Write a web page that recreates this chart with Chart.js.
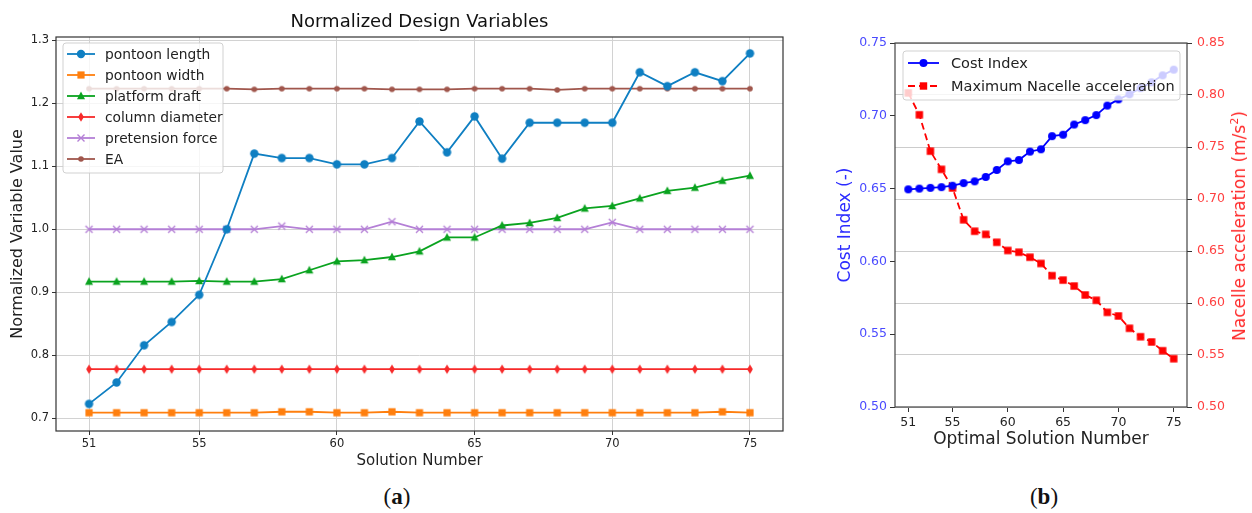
<!DOCTYPE html>
<html>
<head>
<meta charset="utf-8">
<script src="https://cdn.jsdelivr.net/npm/chart.js@4.4.1/dist/chart.umd.min.js"></script>
<style>
  html, body { margin: 0; padding: 0; background: #fff; }
  #wrap { position: relative; width: 1252px; height: 513px; overflow: hidden; background: #fff; }
  #ca { position: absolute; left: 0; top: 0; }
  #cb { position: absolute; left: 830px; top: 0; }
  .cap { position: absolute; top: 484px; line-height: 26px; font-family: "Liberation Serif", "DejaVu Serif", serif; font-size: 23px; color: #111; transform: translateX(-50%); white-space: nowrap; }
  .cap b { font-weight: bold; }
  #rlab { position: absolute; left: 1239px; top: 226px; transform: translate(-50%, -50%) rotate(-90deg); white-space: nowrap;
          font-family: "DejaVu Sans", sans-serif; font-size: 17px; color: #ff2a2a; }
  #rlab sup { font-size: 11px; vertical-align: 7px; line-height: 0; }
</style>
</head>
<body>
<div id="wrap">
  <canvas id="ca" width="800" height="480"></canvas>
  <canvas id="cb" width="422" height="480"></canvas>
  <div id="rlab">Nacelle acceleration (m/s<sup>2</sup>)</div>
  <div class="cap" style="left:397px">(<b>a</b>)</div>
  <div class="cap" style="left:1044px">(<b>b</b>)</div>
</div>
<script>
// ---------------- DATA ----------------
const solutions = [51,52,53,54,55,56,57,58,59,60,61,62,63,64,65,66,67,68,69,70,71,72,73,74,75];
const xTickValues = [51,55,60,65,70,75];

const pontoonLength   = [0.723,0.757,0.816,0.853,0.896,1.000,1.120,1.113,1.113,1.103,1.103,1.113,1.171,1.122,1.179,1.112,1.169,1.169,1.169,1.169,1.249,1.227,1.249,1.235,1.279];
const pontoonWidth    = [0.709,0.709,0.709,0.709,0.709,0.709,0.709,0.7105,0.7105,0.709,0.709,0.7105,0.709,0.709,0.709,0.709,0.709,0.709,0.709,0.709,0.709,0.709,0.709,0.7105,0.709];
const platformDraft   = [0.917,0.917,0.917,0.917,0.918,0.917,0.917,0.921,0.935,0.949,0.951,0.956,0.965,0.987,0.987,1.006,1.010,1.018,1.033,1.037,1.049,1.061,1.066,1.077,1.085];
const columnDiameter  = [0.778,0.778,0.778,0.778,0.778,0.778,0.778,0.778,0.778,0.778,0.778,0.778,0.778,0.778,0.778,0.778,0.778,0.778,0.778,0.778,0.778,0.778,0.778,0.778,0.778];
const pretensionForce = [1.000,1.000,1.000,1.000,1.000,1.000,1.000,1.005,1.000,1.000,1.000,1.012,1.000,1.000,1.000,1.000,1.000,1.000,1.000,1.011,1.000,1.000,1.000,1.000,1.000];
const eaValues        = [1.223,1.223,1.223,1.223,1.223,1.223,1.222,1.223,1.223,1.223,1.223,1.222,1.222,1.222,1.223,1.223,1.223,1.221,1.223,1.223,1.223,1.223,1.223,1.223,1.223];
const yTicksA = [0.7,0.8,0.9,1.0,1.1,1.2,1.3];

const costIndex      = [0.6495,0.650,0.6505,0.651,0.652,0.6538,0.655,0.658,0.6628,0.6687,0.6696,0.6754,0.677,0.686,0.687,0.694,0.697,0.7005,0.707,0.7113,0.7148,0.719,0.723,0.7278,0.7317];
const nacelleAccel   = [0.802,0.781,0.746,0.7285,0.7106,0.680,0.669,0.666,0.6584,0.6505,0.6488,0.644,0.638,0.6263,0.622,0.6163,0.6077,0.6026,0.591,0.5875,0.5757,0.5676,0.5625,0.5541,0.5464];
const yTicksCost = [0.50,0.55,0.60,0.65,0.70,0.75];
const yTicksAcc  = [0.50,0.55,0.60,0.65,0.70,0.75,0.80,0.85];

// ---------------- MARKERS ----------------
function drawMarker(ctx, style, x, y, r, color) {
  ctx.save();
  ctx.fillStyle = color; ctx.strokeStyle = color;
  ctx.beginPath();
  if (style === 'circle') { ctx.arc(x, y, r, 0, Math.PI * 2); ctx.fill(); }
  else if (style === 'square') { ctx.fillRect(x - r, y - r, 2 * r, 2 * r); }
  else if (style === 'triangle') { ctx.moveTo(x, y - r * 1.1); ctx.lineTo(x + r, y + r * 0.8); ctx.lineTo(x - r, y + r * 0.8); ctx.closePath(); ctx.fill(); }
  else if (style === 'thinDiamond') { ctx.moveTo(x, y - r); ctx.lineTo(x + r * 0.6, y); ctx.lineTo(x, y + r); ctx.lineTo(x - r * 0.6, y); ctx.closePath(); ctx.fill(); }
  else if (style === 'x') { ctx.lineWidth = 1.4; ctx.moveTo(x - r, y - r); ctx.lineTo(x + r, y + r); ctx.moveTo(x + r, y - r); ctx.lineTo(x - r, y + r); ctx.stroke(); }
  ctx.restore();
}
function markerImg(style, r, color) {
  const c = document.createElement('canvas');
  const s = Math.ceil(2 * r + 4);
  c.width = s; c.height = s;
  drawMarker(c.getContext('2d'), style, s / 2, s / 2, r, color);
  return c;
}

const FONT = '"DejaVu Sans", sans-serif';
const seriesA = [
  { label: 'pontoon length',   values: pontoonLength,   color: '#0f7fc2', style: 'circle',      r: 4.2, lw: 1.8 },
  { label: 'pontoon width',    values: pontoonWidth,    color: '#ff7f0e', style: 'square',      r: 3.6, lw: 1.8 },
  { label: 'platform draft',   values: platformDraft,   color: '#0aa31f', style: 'triangle',    r: 4.0, lw: 1.8 },
  { label: 'column diameter',  values: columnDiameter,  color: '#f72a2a', style: 'thinDiamond', r: 4.8, lw: 1.8 },
  { label: 'pretension force', values: pretensionForce, color: '#b47fd6', style: 'x',           r: 3.5, lw: 1.8 },
  { label: 'EA',               values: eaValues,        color: '#a0564c', style: 'circle',      r: 2.8, lw: 1.8 }
];

function framePlugin(color) {
  return {
    id: 'frame',
    afterDatasetsDraw(chart) {
      const { ctx, chartArea: a } = chart;
      ctx.save();
      ctx.strokeStyle = color; ctx.lineWidth = 1.2;
      ctx.strokeRect(a.left, a.top, a.right - a.left, a.bottom - a.top);
      ctx.restore();
    }
  };
}
function roundRect(ctx, x, y, w, h, r) {
  ctx.beginPath();
  ctx.moveTo(x + r, y); ctx.lineTo(x + w - r, y); ctx.quadraticCurveTo(x + w, y, x + w, y + r);
  ctx.lineTo(x + w, y + h - r); ctx.quadraticCurveTo(x + w, y + h, x + w - r, y + h);
  ctx.lineTo(x + r, y + h); ctx.quadraticCurveTo(x, y + h, x, y + h - r);
  ctx.lineTo(x, y + r); ctx.quadraticCurveTo(x, y, x + r, y); ctx.closePath();
}
function legendPlugin(cfg) {
  return {
    id: 'boxLegend',
    afterDatasetsDraw(chart) {
      const ctx = chart.ctx;
      ctx.save();
      roundRect(ctx, cfg.x, cfg.y, cfg.w, cfg.h, 3);
      ctx.fillStyle = 'rgba(255,255,255,0.8)'; ctx.fill();
      ctx.strokeStyle = 'rgba(204,204,204,0.9)'; ctx.lineWidth = 1; ctx.stroke();
      cfg.items.forEach((it, i) => {
        const y = cfg.row0 + i * cfg.dy;
        ctx.save();
        ctx.strokeStyle = it.color; ctx.lineWidth = it.lw;
        if (it.dash) ctx.setLineDash(it.dash);
        ctx.beginPath(); ctx.moveTo(cfg.lx0, y); ctx.lineTo(cfg.lx1, y); ctx.stroke();
        ctx.restore();
        drawMarker(ctx, it.style, (cfg.lx0 + cfg.lx1) / 2, y, it.r, it.color);
        ctx.fillStyle = '#222'; ctx.font = cfg.font; ctx.textBaseline = 'middle'; ctx.textAlign = 'left';
        ctx.fillText(it.label, cfg.tx, y + 1);
      });
      ctx.restore();
    }
  };
}
function fixedTicks(vals) { return (s) => { s.ticks = vals.map(v => ({ value: v })); }; }

// ---------------- CHART (a) ----------------
new Chart(document.getElementById('ca'), {
  type: 'line',
  data: {
    datasets: seriesA.map(s => ({
      label: s.label,
      data: solutions.map((x, i) => ({ x: x, y: s.values[i] })),
      borderColor: s.color, backgroundColor: s.color, borderWidth: s.lw,
      pointStyle: markerImg(s.style, s.r, s.color), pointRadius: s.r, pointHoverRadius: s.r,
      tension: 0, fill: false
    }))
  },
  options: {
    responsive: false, animation: false, events: [],
    layout: { padding: { left: 0, right: 17, top: 0, bottom: 0 } },
    plugins: {
      legend: { display: false }, tooltip: { enabled: false },
      title: { display: true, text: 'Normalized Design Variables', fullSize: false, color: '#111',
               font: { family: FONT, size: 18, weight: 'normal', lineHeight: 1.2 }, padding: { top: 11.2, bottom: 4.2 } }
    },
    scales: {
      x: {
        type: 'linear', min: 49.8, max: 76.2,
        afterBuildTicks: fixedTicks(xTickValues),
        afterFit: (s) => { s.height = 49; },
        ticks: { autoSkip: false, maxRotation: 0, padding: 2, color: '#222', font: { family: FONT, size: 11.5 }, callback: v => String(v) },
        grid: { color: '#d2d2d2', lineWidth: 1, tickLength: 4, tickColor: '#333' },
        border: { display: false },
        title: { display: true, text: 'Solution Number', color: '#222', font: { family: FONT, size: 15 }, padding: { top: 0, bottom: 10 } }
      },
      y: {
        type: 'linear', min: 0.68, max: 1.305,
        afterBuildTicks: fixedTicks(yTicksA),
        afterFit: (s) => { s.width = 56; },
        ticks: { padding: 3, color: '#222', font: { family: FONT, size: 11.5 }, callback: v => v.toFixed(1) },
        grid: { color: '#d2d2d2', lineWidth: 1, tickLength: 4, tickColor: '#333' },
        border: { display: false },
        title: { display: true, text: 'Normalized Variable Value', color: '#222', font: { family: FONT, size: 16 }, padding: { top: 8.4, bottom: 0 } }
      }
    }
  },
  plugins: [framePlugin('#333'), legendPlugin({
    x: 63, y: 43, w: 160, h: 130, row0: 54, dy: 21, lx0: 67, lx1: 95, tx: 105,
    font: '13.8px "DejaVu Sans", sans-serif',
    items: seriesA.map(s => ({ label: s.label, color: s.color, style: s.style, r: s.r, lw: s.lw }))
  })]
});

// ---------------- CHART (b) ----------------
const seriesB = [
  { label: 'Cost Index', values: costIndex, color: '#0000ff', style: 'circle', r: 4.0, lw: 1.8, axis: 'y', dash: null },
  { label: 'Maximum Nacelle acceleration', values: nacelleAccel, color: '#ff0000', style: 'square', r: 3.7, lw: 1.8, axis: 'y1', dash: [7, 4] }
];
new Chart(document.getElementById('cb'), {
  type: 'line',
  data: {
    datasets: seriesB.map(s => ({
      label: s.label,
      data: solutions.map((x, i) => ({ x: x, y: s.values[i] })),
      yAxisID: s.axis,
      borderColor: s.color, backgroundColor: s.color, borderWidth: s.lw,
      borderDash: s.dash || [],
      pointStyle: markerImg(s.style, s.r, s.color), pointRadius: s.r, pointHoverRadius: s.r,
      tension: 0, fill: false
    }))
  },
  options: {
    responsive: false, animation: false, events: [],
    layout: { padding: { left: 0, right: 0, top: 43, bottom: 0 } },
    plugins: { legend: { display: false }, tooltip: { enabled: false } },
    scales: {
      x: {
        type: 'linear', min: 49.8, max: 76.2,
        afterBuildTicks: fixedTicks(xTickValues),
        afterFit: (s) => { s.height = 73; },
        ticks: { autoSkip: false, maxRotation: 0, padding: 3, color: '#222', font: { family: FONT, size: 12.5 }, callback: v => String(v) },
        grid: { drawOnChartArea: false, tickLength: 5, tickColor: '#333' },
        border: { display: false },
        title: { display: true, text: 'Optimal Solution Number', color: '#222', font: { family: FONT, size: 17 }, padding: { top: 0, bottom: 29.8 } }
      },
      y: {
        type: 'linear', position: 'left', min: 0.5, max: 0.75,
        afterBuildTicks: fixedTicks(yTicksCost),
        afterFit: (s) => { s.width = 65; },
        ticks: { padding: 3, color: '#4a4aff', font: { family: FONT, size: 12.5 }, callback: v => v.toFixed(2) },
        grid: { drawOnChartArea: false, tickLength: 5, tickColor: '#333' },
        border: { display: false },
        title: { display: true, text: 'Cost Index (-)', color: '#2b2bff', font: { family: FONT, size: 17 }, padding: { top: 5.4, bottom: 0 } }
      },
      y1: {
        type: 'linear', position: 'right', min: 0.5, max: 0.85,
        afterBuildTicks: fixedTicks(yTicksAcc),
        afterFit: (s) => { s.width = 65; },
        ticks: { padding: 5, color: '#ff4040', font: { family: FONT, size: 12.5 }, callback: v => v.toFixed(2) },
        grid: { color: '#cccccc', lineWidth: 1, tickLength: 5, tickColor: '#333' },
        border: { display: false }
      }
    }
  },
  plugins: [framePlugin('#444'), legendPlugin({
    x: 73, y: 51, w: 277, h: 49, row0: 63, dy: 23, lx0: 78, lx1: 109, tx: 121,
    font: '14.5px "DejaVu Sans", sans-serif',
    items: seriesB.map(s => ({ label: s.label, color: s.color, style: s.style, r: s.r, lw: s.lw, dash: s.dash }))
  })]
});
</script>
</body>
</html>
